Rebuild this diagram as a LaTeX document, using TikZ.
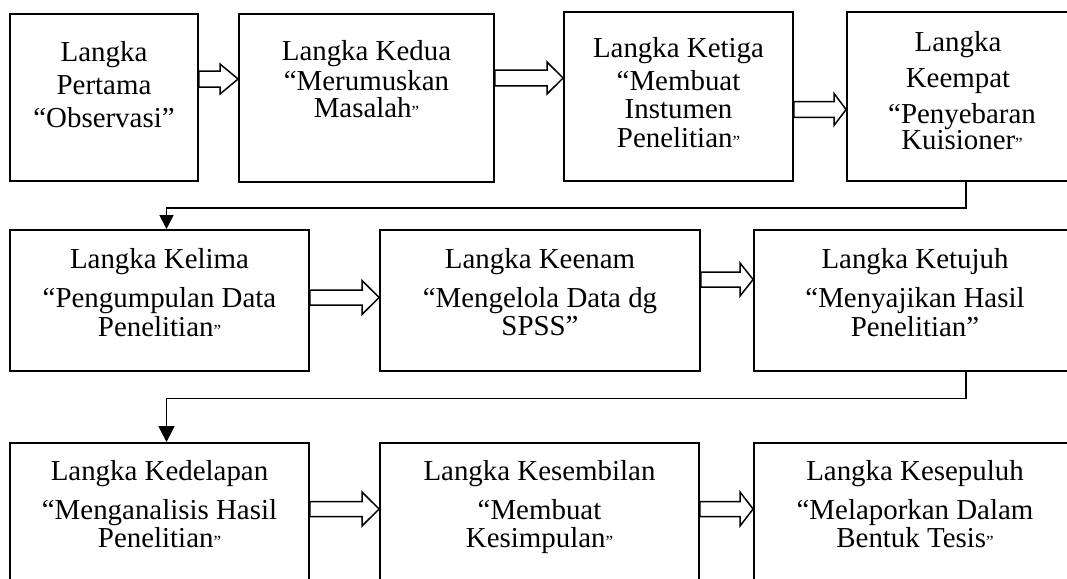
\documentclass[tikz,border=0pt]{standalone}
\usepackage{fontspec}
\setmainfont{Liberation Serif}
\usetikzlibrary{arrows.meta}
\newcommand{\sq}{{\fontsize{17}{17}\selectfont ”}}
\newcommand{\blkarrow}[6]{% from, to, y centre, shaft half, head half, head start x
  \draw[blk] (#1.east |- 0,#3-#4) -- (#6,#3-#4) -- (#6,#3-#5) -- (#2.west |- 0,#3)
    -- (#6,#3+#5) -- (#6,#3+#4) -- (#1.east |- 0,#3+#4) -- cycle;}
\begin{document}
\begin{tikzpicture}[x=1pt,y=-1pt,
  box/.style={draw, line width=1.8pt, inner sep=0pt, rectangle},
  lbl/.style={anchor=base, inner sep=0pt, font=\fontsize{28.9}{30}\selectfont},
  blk/.style={draw, line width=1.5pt, fill=white, line join=miter},
  conn/.style={line width=1.2pt}]
\useasboundingbox (0,0) rectangle (1067,578);
% boxes
\node[box, minimum width=188pt, minimum height=167pt] (b1) at (104,97.5) {};
\node[box, minimum width=255pt, minimum height=168pt] (b2) at (366.5,98) {};
\node[box, minimum width=229pt, minimum height=169pt] (b3) at (678.5,96.5) {};
\node[box, minimum width=223pt, minimum height=169pt] (b4) at (958.5,96.5) {};
\node[box, minimum width=299pt, minimum height=141pt] (b5) at (159.5,300.5) {};
\node[box, minimum width=320pt, minimum height=141pt] (b6) at (540,300.5) {};
\node[box, minimum width=322pt, minimum height=141pt] (b7) at (915,300.5) {};
\node[box, minimum width=299pt, minimum height=177pt] (b8) at (159.5,531.5) {};
\node[box, minimum width=319pt, minimum height=177pt] (b9) at (539.5,531.5) {};
\node[box, minimum width=322pt, minimum height=177pt] (b10) at (915,531.5) {};
% texts
\node[lbl] (t1a) at (104,61) {Langka};
\node[lbl] (t1b) at (104,94) {Pertama};
\node[lbl] (t1c) at (104,127) {“Observasi”};
\node[lbl] (t2a) at (366.5,60) {Langka Kedua};
\node[lbl] (t2b) at (366.5,90) {“Merumuskan};
\node[lbl] (t2c) at (366.5,117.5) {Masalah\sq};
\node[lbl] (t3a) at (678.5,58) {Langka Ketiga};
\node[lbl] (t3b) at (678.5,90.5) {“Membuat};
\node[lbl] (t3c) at (678.5,118) {Instumen};
\node[lbl] (t3d) at (678.5,147) {Penelitian\sq};
\node[lbl] (t4a) at (958,51.7) {Langka};
\node[lbl] (t4b) at (958,87.3) {Keempat};
\node[lbl] (t4c) at (962,123) {“Penyebaran};
\node[lbl] (t4d) at (962,149.5) {Kuisioner\sq};
\node[lbl] (t5a) at (159.5,268.3) {Langka Kelima};
\node[lbl] (t5b) at (159.5,307.5) {“Pengumpulan Data};
\node[lbl] (t5c) at (159.5,336) {Penelitian\sq};
\node[lbl] (t6a) at (540,268.3) {Langka Keenam};
\node[lbl] (t6b) at (540,307.5) {“Mengelola Data dg};
\node[lbl] (t6c) at (540,335) {SPSS”};
\node[lbl] (t7a) at (915,268.3) {Langka Ketujuh};
\node[lbl] (t7b) at (915,307.5) {“Menyajikan Hasil};
\node[lbl] (t7c) at (915,336) {Penelitian”};
\node[lbl] (t8a) at (159.5,480) {Langka Kedelapan};
\node[lbl] (t8b) at (159.5,519.5) {“Menganalisis Hasil};
\node[lbl] (t8c) at (159.5,547.5) {Penelitian\sq};
\node[lbl] (t9a) at (539.5,480) {Langka Kesembilan};
\node[lbl] (t9b) at (539.5,519.5) {“Membuat};
\node[lbl] (t9c) at (539.5,547.5) {Kesimpulan\sq};
\node[lbl] (t10a) at (915,480) {Langka Kesepuluh};
\node[lbl] (t10b) at (915,519.5) {“Melaporkan Dalam};
\node[lbl] (t10c) at (915,547.5) {Bentuk Tesis\sq};
% block arrows
\blkarrow{b1}{b2}{79}{8}{15}{220}
\blkarrow{b2}{b3}{78}{7.8}{16}{547}
\blkarrow{b3}{b4}{109.5}{7.8}{16}{834}
\blkarrow{b5}{b6}{297.5}{7.5}{17}{362}
\blkarrow{b6}{b7}{279.5}{7.5}{16.5}{740}
\blkarrow{b8}{b9}{509}{7.5}{17}{362}
\blkarrow{b9}{b10}{509}{7.5}{17}{740}
% elbow connectors
\coordinate (k1a) at (966,208);
\coordinate (k1b) at (166.5,208);
\coordinate (k2a) at (966,398.3);
\coordinate (k2b) at (166.5,398.3);
\draw[conn, -{Triangle[length=14pt,width=14pt]}] (b4.south -| k1a) -- (k1a) -- (k1b) -- (b5.north -| k1b);
\draw[conn, -{Triangle[length=16pt,width=16pt]}] (b7.south -| k2a) -- (k2a) -- (k2b) -- (b8.north -| k2b);
\end{tikzpicture}
\end{document}
